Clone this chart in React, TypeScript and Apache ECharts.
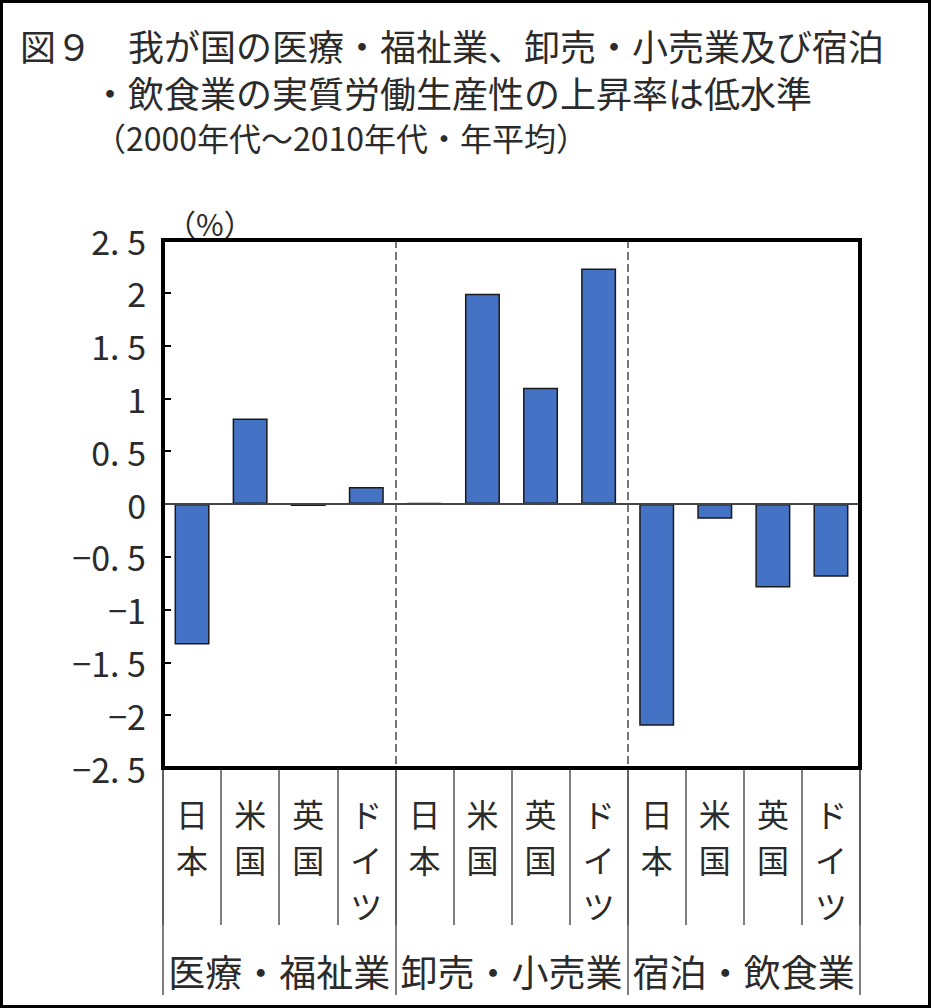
import { useEffect, useRef } from 'react';
import * as echarts from 'echarts';

const countries = ['日本', '米国', '英国', 'ドイツ', '日本', '米国', '英国', 'ドイツ', '日本', '米国', '英国', 'ドイツ'];
const industries = ['医療・福祉業', '卸売・小売業', '宿泊・飲食業'];
// 実質労働生産性の上昇率（%、年平均）
const growth = [-1.33, 0.81, -0.02, 0.16, 0.01, 1.99, 1.1, 2.23, -2.1, -0.14, -0.79, -0.69];
const groupBreaks = [4, 8];
const yMin = -2.5;
const yMax = 2.5;
const yStep = 0.5;

const titleLines = [
  '図９　我が国の医療・福祉業、卸売・小売業及び宿泊',
  '・飲食業の実質労働生産性の上昇率は低水準',
  '（2000年代～2010年代・年平均）',
];

const FONT = '"Noto Sans CJK JP", "Noto Sans", sans-serif';
const INK = '#2b2b2b';

export default function App() {
  const chartRef = useRef<HTMLDivElement>(null);

  useEffect(() => {
    if (!chartRef.current) return;
    const chart = echarts.init(chartRef.current, undefined, { renderer: 'svg' });

    const tableLine = { color: '#555', width: 1.5 };

    chart.setOption({
      animation: false,
      backgroundColor: '#fff',
      textStyle: { fontFamily: FONT },
      grid: {
        left: 163,
        right: 71,
        top: 240,
        bottom: 240,
        show: true,
        borderColor: '#000',
        borderWidth: 4,
        z: 10,
      },
      xAxis: [
        {
          // zero line with small upward ticks, dashed group separators
          type: 'category',
          data: countries,
          position: 'bottom',
          axisLine: { onZero: true, lineStyle: { color: '#444', width: 2 } },
          axisTick: { inside: true, length: 7, interval: 0, lineStyle: { color: '#444', width: 1.5 } },
          axisLabel: { show: false },
          splitLine: {
            show: true,
            interval: (i: number) => groupBreaks.includes(i),
            lineStyle: { type: 'dashed', color: '#777', width: 2 },
          },
          z: 5,
        },
        {
          // country row of the table under the plot
          type: 'category',
          data: countries,
          position: 'bottom',
          axisLine: { show: true, onZero: false, lineStyle: { color: '#000', width: 3 } },
          axisTick: { show: true, length: 157, interval: 0, lineStyle: tableLine },
          axisLabel: {
            interval: 0,
            margin: 22,
            fontSize: 32,
            lineHeight: 46,
            color: INK,
            formatter: (v: string) => v.split('').join('\n'),
          },
          splitLine: { show: false },
        },
        {
          // industry row of the table
          type: 'category',
          data: industries,
          position: 'bottom',
          axisLine: { show: true, onZero: false, lineStyle: { color: '#000', width: 3 } },
          axisTick: { show: true, length: 227, interval: 0, lineStyle: tableLine },
          axisLabel: { interval: 0, margin: 184, fontSize: 37, color: INK },
          splitLine: { show: false },
        },
      ],
      yAxis: {
        type: 'value',
        min: yMin,
        max: yMax,
        interval: yStep,
        axisLine: { show: false },
        axisTick: { show: true, inside: true, length: 8, lineStyle: { color: '#000', width: 2 } },
        axisLabel: {
          margin: 17,
          fontSize: 34,
          color: INK,
          formatter: (v: number) => String(v).replace('.', '. ').replace('-', '−'),
        },
        splitLine: { show: false },
      },
      series: [
        {
          type: 'bar',
          data: growth,
          xAxisIndex: 0,
          barWidth: 35,
          itemStyle: { color: '#4472C4', borderColor: '#1a1a1a', borderWidth: 1.5 },
        },
      ],
      graphic: [
        {
          type: 'rect',
          shape: { x: 1.5, y: 1.5, width: 928, height: 1005 },
          style: { fill: 'none', stroke: '#000', lineWidth: 3 },
          silent: true,
        },
        {
          type: 'text',
          left: 20,
          top: 27,
          style: { text: titleLines[0], font: `36px ${FONT}`, fill: INK, lineHeight: 36 },
        },
        {
          type: 'text',
          left: 92,
          top: 74,
          style: { text: titleLines[1], font: `36px ${FONT}`, fill: INK, lineHeight: 36 },
        },
        {
          type: 'text',
          left: 94,
          top: 121,
          style: { text: titleLines[2], font: `32px ${FONT}`, fill: INK, lineHeight: 32 },
        },
        {
          type: 'text',
          left: 166,
          top: 208,
          style: { text: '（%）', font: `30px ${FONT}`, fill: INK, lineHeight: 30 },
        },
      ],
    });

    return () => {
      chart.dispose();
    };
  }, []);

  return (
    <div
      ref={chartRef}
      style={{ position: 'absolute', left: 0, top: 0, width: 931, height: 1008 }}
    />
  );
}
